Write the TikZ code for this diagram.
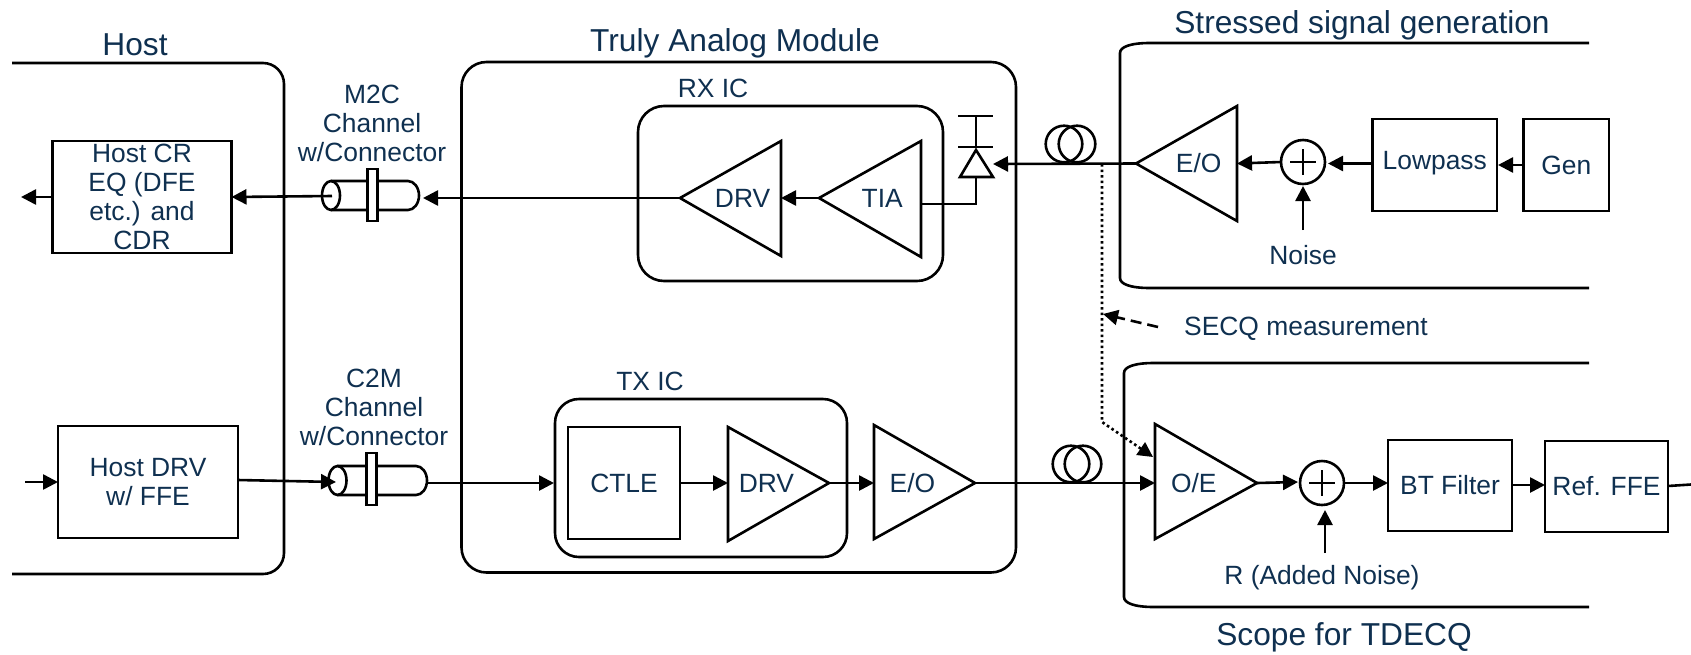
\documentclass[tikz,border=0pt]{standalone}
\usepackage{fontspec}
\setmainfont{Liberation Sans}
\usetikzlibrary{arrows.meta,calc}
\definecolor{txt}{HTML}{0F3050}
\tikzset{
  x=1pt,y=-1pt,
  ln/.style={line width=2.6pt,black},
  arr/.style={ln,-{Triangle[length=15pt,width=15pt]}},
  blk/.style={ln,draw,rectangle,anchor=north west,inner sep=0pt,outer sep=0pt,align=center,text=txt,font=\fontsize{26.4}{29}\selectfont},
  lab/.style={text=txt,align=center,inner sep=0pt,font=\fontsize{26.4}{29}\selectfont},
  ttl/.style={text=txt,align=center,inner sep=0pt,font=\fontsize{31.7}{35}\selectfont},
  sumc/.style={ln,draw,circle,minimum size=44pt,inner sep=0pt,outer sep=0pt},
  flange/.style={ln,draw,fill=white,rectangle,inner sep=0pt,outer sep=0pt,minimum width=10pt,minimum height=52pt},
}
\newcommand{\tri}[7]{% name, apex x, apex y, back x, top y, bottom y, label
  \draw[ln,line join=miter] (#2,#3) -- (#4,#5) -- (#4,#6) -- cycle;
  \coordinate (#1a) at (#2,#3);
  \coordinate (#1r) at (#4,#3);
  \node[lab] (#1) at ({#2+0.62*(#4-#2)},#3) {#7};}
\newcommand{\blkbox}[6]{% name,x1,y1,x2,y2,text
  \node[blk,minimum width={#4-#2},minimum height={#5-#3}] (#1) at (#2,#3) {#6};}
\newcommand{\cable}[4]{% left centre x, centre y, right straight end x, half height
  \draw[ln] (#1,#2) ellipse[x radius=9,y radius=#4];
  \draw[ln] (#1,{#2-#4}) -- (#3,{#2-#4}) .. controls ({#3+6},{#2-#4}) and ({#3+11},{#2-0.55*#4}) .. ({#3+11},#2)
     .. controls ({#3+11},{#2+0.55*#4}) and ({#3+6},{#2+#4}) .. (#3,{#2+#4}) -- (#1,{#2+#4});}
\begin{document}
\begin{tikzpicture}
\useasboundingbox (0,0) rectangle (1691,654);
% outer frames
\draw[ln] (12,63) -- (263,63) arc[start angle=-90,end angle=0,radius=21] -- (284,553) arc[start angle=0,end angle=90,radius=21] -- (12,574);
\draw[ln,rounded corners=25] (461.5,62) rectangle (1016,572.5);
\draw[ln] (1589,43) -- (1150,43) .. controls (1130,43) and (1120,47) .. (1120,53) -- (1120,278) .. controls (1120,284) and (1130,288) .. (1150,288) -- (1589,288);
\draw[ln] (1589,363) -- (1154,363) .. controls (1134,363) and (1124,367) .. (1124,373) -- (1124,597) .. controls (1124,603) and (1134,607) .. (1154,607) -- (1589,607);
\draw[ln,rounded corners=26] (638,106) rectangle (943,281);
\draw[ln,rounded corners=24] (555,399) rectangle (847,557);
% titles
\node[ttl] (thost) at (135,45) {Host};
\node[ttl] (tmod) at (735,43.5) {Truly Analog Module};
\node[ttl] (tstress) at (1362,25) {Stressed signal generation};
\node[ttl] (tscope) at (1344,637) {Scope for TDECQ};
\node[lab] (trx) at (713,88) {RX IC};
\node[lab] (ttx) at (650,381) {TX IC};
% host blocks
\blkbox{hcr}{52.5}{141}{231.5}{253}{Host CR\\EQ (DFE\\etc.) and\\CDR}
\blkbox{hdrv}{58}{426}{238}{538}{Host DRV\\w/ FFE}
\coordinate (hcrout) at (21,197);
\coordinate (hdrvin) at (25,482);
\draw[arr] (hcr.west|-hcrout) -- (hcrout);
\draw[arr] (hdrvin) -- (hdrv.west|-hdrvin);
% M2C cable
\node[lab] (m2c) at (372,123.5) {M2C\\Channel\\w/Connector};
\cable{331}{195.5}{408}{14.5}
\node[flange] (fm) at (372.5,195) {};
\coordinate (m2cL) at (332,196);
\coordinate (m2cR) at (423,198);
% C2M cable
\node[lab] (c2m) at (374,407) {C2M\\Channel\\w/Connector};
\cable{337.5}{480.5}{416}{14.5}
\node[flange] (fc) at (371.5,479) {};
\coordinate (c2mL) at (336,482);
\coordinate (c2mR) at (427,483);
% module rx
\tri{rdrv}{680}{198}{781}{141}{256}{DRV}
\tri{tia}{819}{198}{921}{141}{257}{TIA}
\draw[arr] (rdrva) -- (m2cR);
\draw[arr] (m2cL) -- (hcr.east|-hcrout);
\draw[arr] (tiaa) -- (rdrvr);
% photodiode
\coordinate (pdtop) at (976,116);
\coordinate (pdbar) at (976,147);
\coordinate (pdapex) at (976,150);
\coordinate (pdbase) at (976,177);
\coordinate (pdin) at (993,164);
\coordinate (tiaout) at (921,204);
\draw[ln] (958,116) -- (993,116);
\draw[ln] (958,147) -- (993,147);
\draw[ln] (pdtop) -- (pdbar);
\draw[ln,line join=miter] (pdapex) -- (993,177) -- (960,177) -- cycle;
\draw[ln] (pdbase) |- (tiaout);
% stressed chain
\tri{eor}{1136}{163.5}{1237}{106}{221}{E/O}
\draw[arr] (eora) -- (pdin);
\draw[ln] (1064,144) circle[radius=18.3];
\draw[ln] (1077,144) circle[radius=18.3];
\node[sumc] (sr) at (1303,162) {};
\draw[ln] (1303,149) -- (1303,175) (1290,162) -- (1316,162);
\blkbox{lp}{1372.5}{119}{1497}{211}{\raisebox{-9pt}{\smash{Lowpass}}}
\blkbox{gen}{1523.5}{119}{1609}{211}{Gen}
\coordinate (lpin) at (1328,163.5);
\coordinate (genin) at (1498,165);
\coordinate (srin) at (1303,186);
\draw[arr] (sr.west) -- (eorr);
\draw[arr] (lp.west|-lpin) -- (lpin);
\draw[arr] (gen.west|-genin) -- (genin);
\node[lab] (noise) at (1303,255) {Noise};
\coordinate (noiseo) at (1303,230);
\draw[arr] (noiseo) -- (srin);
% secq
\node[lab,anchor=west] (secq) at (1184,329) {SECQ measurement};
\coordinate (dot0) at (1102,164);
\coordinate (dot1) at (1102,422);
\coordinate (dot2) at (1153,457);
\coordinate (dsh0) at (1158,327);
\coordinate (dsh1) at (1103,314);
\draw[ln,dash pattern=on 2.6pt off 2.9pt,-{Triangle[length=15pt,width=15pt]}] (dot0) -- (dot1) -- (dot2);
\draw[ln,dash pattern=on 11pt off 6pt,-{Triangle[length=15pt,width=15pt]}] (dsh0) -- (dsh1);
% TX chain
\blkbox{ctle}{568}{427}{680}{539}{CTLE}
\tri{tdrv}{829}{483}{728}{427}{541}{DRV}
\tri{eot}{975}{483}{874}{425}{539}{E/O}
\coordinate (txin) at (554,483);
\draw[arr] (c2mR) -- (txin);
\coordinate (hdrvout) at (238,480);
\draw[arr] (hdrvout) -- (c2mL);
\draw[arr] (ctle.east|-tdrva) -- (tdrvr);
\draw[arr] (tdrva) -- (eotr);
\tri{oe}{1257}{483}{1155}{424}{539}{O/E}
\draw[arr] (eota) -- (oer);
\draw[ln] (1071,464) circle[radius=18.3];
\draw[ln] (1083,464) circle[radius=18.3];
\node[sumc] (st) at (1322,483) {};
\draw[ln] (1322,470) -- (1322,496) (1309,483) -- (1335,483);
\coordinate (stin) at (1298,482);
\coordinate (stb) at (1325,510);
\draw[arr] (oea) -- (stin);
\blkbox{bt}{1388}{440}{1512}{531}{BT Filter}
\blkbox{ref}{1545}{441}{1668}{532}{Ref. FFE}
\draw[arr] (st.east) -- (bt.west|-st);
\coordinate (btout) at (1512,485);
\draw[arr] (btout) -- (ref.west|-btout);
\coordinate (refo0) at (1668,486);
\coordinate (refout) at (1691,484.5);
\draw[ln] (refo0) -- (refout);
\node[lab] (rn) at (1322,578) {R (Added Noise)};
\coordinate (rno) at (1325,553);
\draw[arr] (rno) -- (stb);
\end{tikzpicture}
\end{document}
